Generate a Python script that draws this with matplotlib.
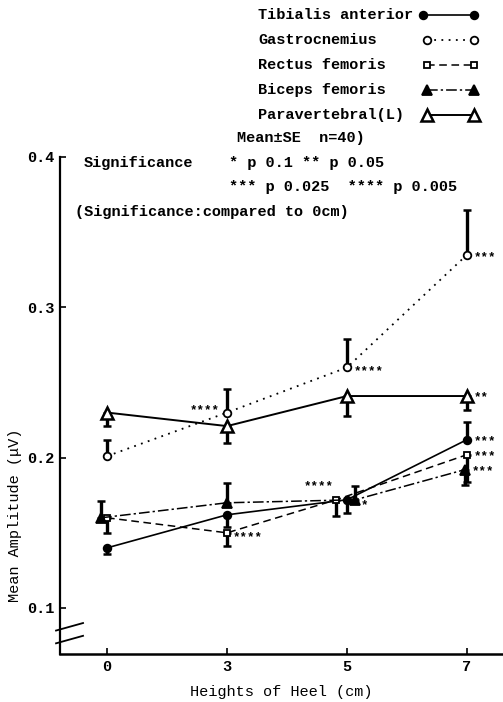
import matplotlib
matplotlib.use("Agg")
import matplotlib.pyplot as plt
from matplotlib.lines import Line2D
import numpy as np

plt.rcParams['font.family'] = ['Liberation Mono', 'DejaVu Sans Mono']
plt.rcParams['font.weight'] = 'bold'

# heel heights (categorical axis)
heights = ['0', '3', '5', '7']

# mean amplitude for each muscle
tibialis = [0.140, 0.162, 0.172, 0.212]
gastro = [0.201, 0.230, 0.260, 0.335]
rectus = [0.160, 0.150, 0.172, 0.202]
biceps = [0.160, 0.170, 0.172, 0.192]
paravert = [0.230, 0.221, 0.241, 0.241]

# one-sided SE bars (lower, upper)
tibialis_lo = [0.004, 0.008, 0.009, 0.0]
tibialis_up = [0.0, 0.0, 0.0, 0.012]
gastro_lo = [0.0, 0.0, 0.0, 0.0]
gastro_up = [0.011, 0.016, 0.019, 0.030]
rectus_lo = [0.010, 0.009, 0.011, 0.018]
rectus_up = [0.0, 0.0, 0.0, 0.0]
biceps_lo = [0.0, 0.0, 0.0, 0.010]
biceps_up = [0.011, 0.013, 0.009, 0.0]
paravert_lo = [0.009, 0.011, 0.013, 0.009]
paravert_up = [0.0, 0.0, 0.0, 0.0]

names = ['Tibialis anterior', 'Gastrocnemius', 'Rectus femoris',
         'Biceps femoris', 'Paravertebral(L)']

# significance marks: (series, height index, stars)
sig_marks = [(1, 1, '****'), (1, 2, '****'), (1, 3, '***'), (4, 3, '**'),
             (0, 3, '***'), (2, 3, '***'), (3, 3, '***'), (2, 1, '****'),
             (2, 2, '****'), (3, 2, '*')]

series = [(tibialis, tibialis_lo, tibialis_up),
          (gastro, gastro_lo, gastro_up),
          (rectus, rectus_lo, rectus_up),
          (biceps, biceps_lo, biceps_up),
          (paravert, paravert_lo, paravert_up)]

# drawing styles
styles = [dict(ls='-', marker='o', mfc='black', ms=5.5, lw=1.2),
          dict(ls=(0, (1, 3)), marker='o', mfc='white', ms=5.5, lw=1.3),
          dict(ls=(0, (5, 3)), marker='s', mfc='white', ms=5, lw=1.1),
          dict(ls=(0, (7, 2, 1.5, 2)), marker='^', mfc='black', ms=7, lw=1.1),
          dict(ls='-', marker='^', mfc='white', ms=8.5, lw=1.4, mew=1.8)]
x_shift = [[0, 0, 0, 0], [0, 0, 0, 0], [0, 0, -0.09, 0],
           [-0.05, 0, 0.07, -0.02], [0, 0, 0, 0]]
# where each star label goes: (dx, dy) in points, ha
sig_pos = {(1, 1): (-5, 2, 'right'), (1, 2): (5, -3, 'left'),
           (1, 3): (5, -2, 'left'), (4, 3): (5, -1, 'left'),
           (0, 3): (5, -1, 'left'), (2, 3): (5, -1, 'left'),
           (3, 3): (5, -1, 'left'), (2, 1): (4, -3, 'left'),
           (2, 2): (-2, 10, 'right'), (3, 2): (4, -4, 'left')}

W, H = 503, 702
fig = plt.figure(figsize=(W / 100, H / 100), dpi=100)
ax = fig.add_axes([60 / W, 48 / H, 443 / W, 497 / H])

xpos = np.arange(len(heights))
for k, (vals, lo, up) in enumerate(series):
    xs = xpos + np.array(x_shift[k])
    st = styles[k]
    ax.errorbar(xs, vals, yerr=[lo, up], fmt='none', ecolor='black',
                elinewidth=2.4, capsize=3.2, capthick=1.8, zorder=2)
    ax.plot(xs, vals, color='black', linestyle=st['ls'], lw=st['lw'],
            marker=st['marker'], mfc=st['mfc'], mec='black',
            ms=st['ms'], mew=st.get('mew', 1.3), zorder=3)

for s, i, txt in sig_marks:
    dx, dy, ha = sig_pos[(s, i)]
    xv = xpos[i] + x_shift[s][i]
    ax.annotate(txt, (xv, series[s][0][i]), xytext=(dx, dy),
                textcoords='offset points', ha=ha, va='center', fontsize=9)

ax.set_xlim(-0.392, 3.3)
ax.set_ylim(0.0694, 0.4)
ax.set_xticks(xpos)
ax.set_xticklabels(heights)
ax.set_yticks([0.1, 0.2, 0.3, 0.4])
ax.set_yticklabels(['0.1', '0.2', '0.3', '0.4'])
ax.tick_params(direction='in', length=4, width=1.2, labelsize=11, pad=4)
ax.spines['top'].set_visible(False)
ax.spines['right'].set_visible(False)
ax.spines['left'].set_linewidth(1.6)
ax.spines['bottom'].set_linewidth(1.8)
ax.set_xlabel('Heights of Heel (cm)', fontsize=11, labelpad=8)
ax.set_ylabel('Mean Amplitude (\u03bcV)', fontsize=11, labelpad=2,
              family=['Liberation Mono', 'DejaVu Sans'])
ax.yaxis.set_label_coords(-0.085, 0.28)

# axis break marks
for yb in [0.079, 0.0875]:
    ax.plot([-0.425, -0.2], [yb - 0.0025, yb + 0.0025], color='black', lw=1.3,
            clip_on=False, zorder=4)

# legend drawn by hand: text left aligned, sample line on the right
for k, name in enumerate(names):
    yy = 1 - (15 + 25 * k) / H
    st = styles[k]
    fig.text(258 / W, yy, name, fontsize=11, va='center', ha='left')
    x0 = 423 if k == 0 else 427
    fig.add_artist(Line2D([x0 / W, 474 / W], [yy, yy], transform=fig.transFigure,
                          color='black', linestyle=st['ls'], lw=st['lw'],
                          marker=st['marker'], mfc=st['mfc'], mec='black',
                          ms=st['ms'], mew=st.get('mew', 1.3)))

fig.text(237 / W, 1 - 138 / H, 'Mean\u00b1SE  n=40)', fontsize=11,
         va='center', ha='left')
fig.text(84 / W, 1 - 163 / H, 'Significance', fontsize=11,
         va='center', ha='left')
fig.text(229 / W, 1 - 163 / H, '* p 0.1 ** p 0.05', fontsize=11,
         va='center', ha='left')
fig.text(229 / W, 1 - 187 / H, '*** p 0.025  **** p 0.005', fontsize=11,
         va='center', ha='left')
fig.text(75 / W, 1 - 212 / H, '(Significance:compared to 0cm)',
         fontsize=11, va='center', ha='left')

fig.savefig('out.png', dpi=100)
